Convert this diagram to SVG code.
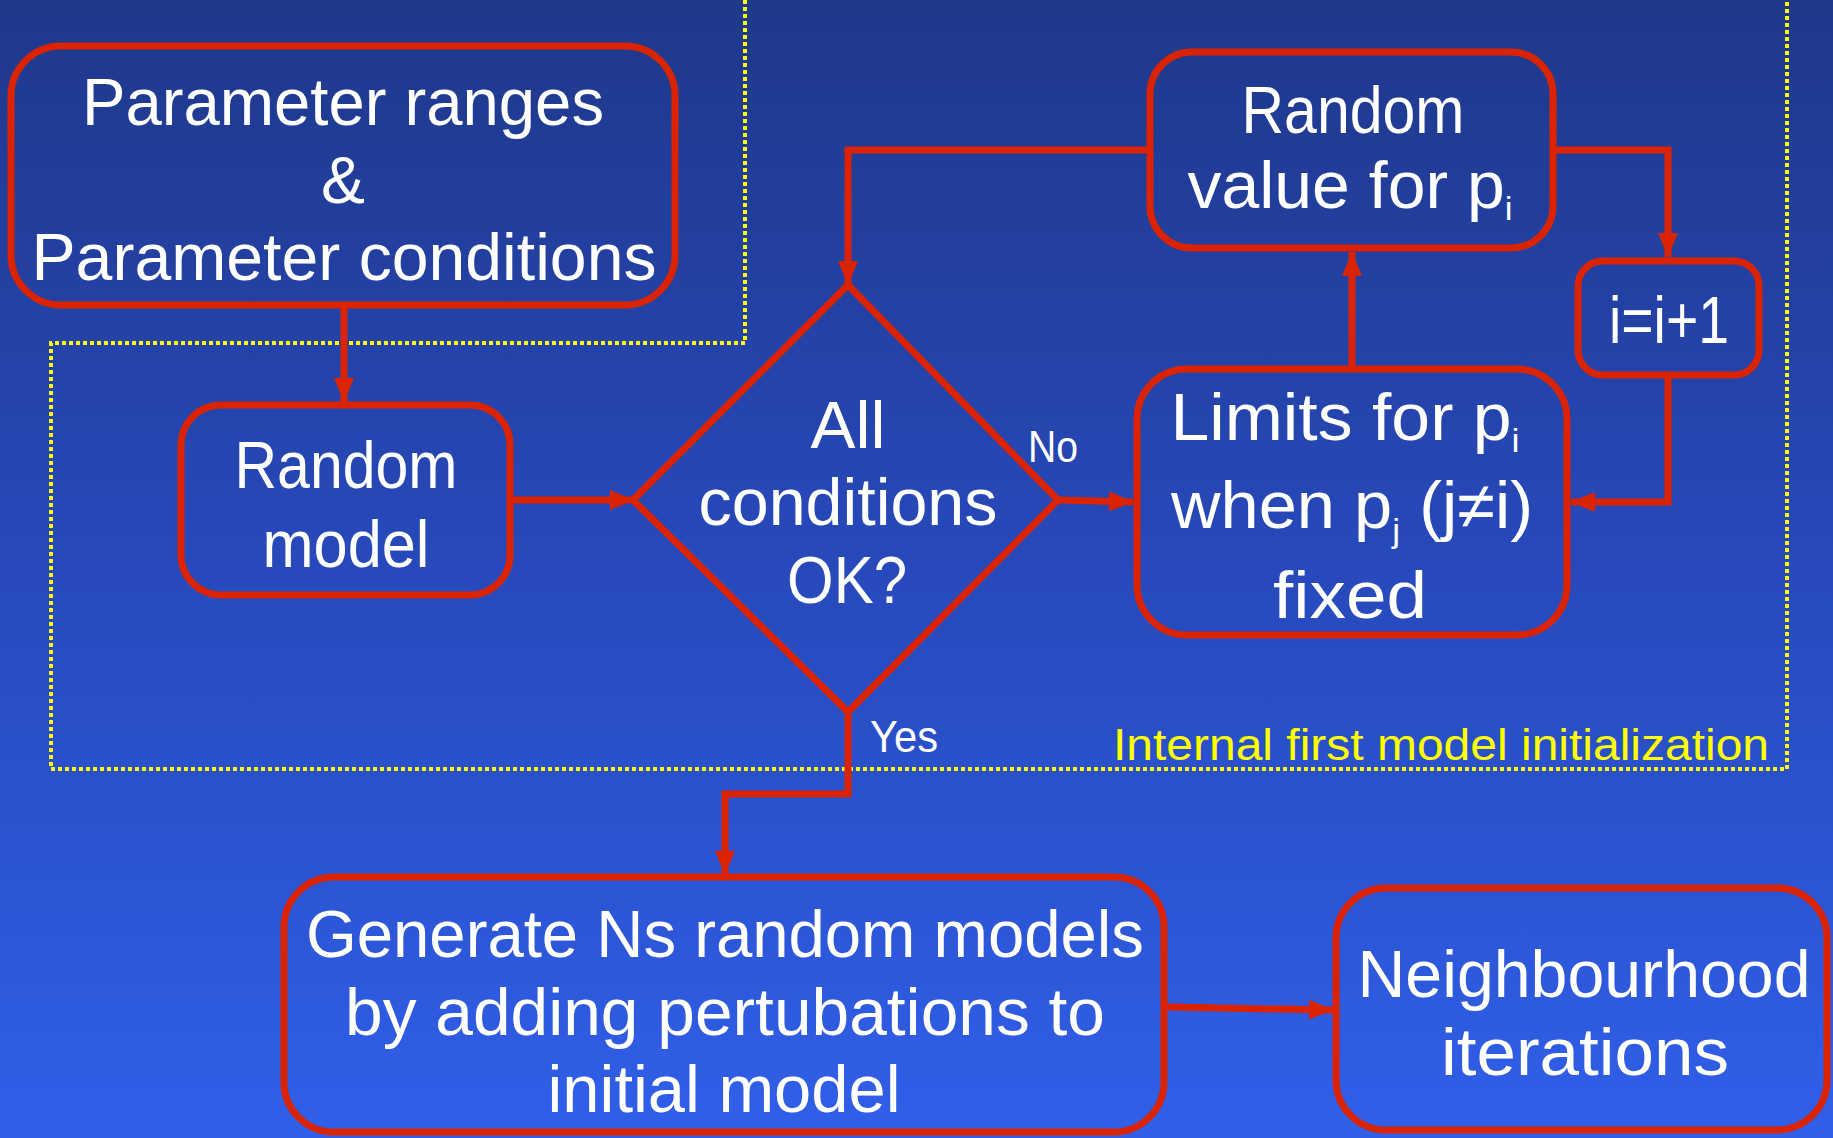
<svg xmlns="http://www.w3.org/2000/svg" width="1833" height="1138" viewBox="0 0 1833 1138">
<defs>
<linearGradient id="bg" x1="0" y1="0" x2="0" y2="1">
<stop offset="0" stop-color="#1f388a"/>
<stop offset="0.5" stop-color="#2749bb"/>
<stop offset="1" stop-color="#305fe9"/>
</linearGradient>
<marker id="arr" viewBox="0 0 24 20" markerWidth="24" markerHeight="20" refX="24" refY="10" orient="auto" markerUnits="userSpaceOnUse">
<path d="M0 0 L24 10 L0 20 Z" fill="#dc2300"/>
</marker>
<style>
.box{fill:none;stroke:#dc2300;stroke-width:7}
.con{fill:none;stroke:#dc2300;stroke-width:7;marker-end:url(#arr)}
.t{fill:#ffffff;font-family:"Liberation Sans","DejaVu Sans",sans-serif;font-size:66px;text-anchor:middle}
.sub{font-size:34px}
.lbl{fill:#ffffff;font-family:"Liberation Sans","DejaVu Sans",sans-serif;font-size:44px;text-anchor:middle}
.yl{fill:#ffff00;font-family:"Liberation Sans","DejaVu Sans",sans-serif;font-size:44px;text-anchor:middle}
.dash{fill:none;stroke:#ffff00;stroke-width:4;stroke-dasharray:4 3}
</style>
</defs>
<rect x="0" y="0" width="1833" height="1138" fill="url(#bg)"/>

<path class="dash" d="M745 0 V343 H51 V769 H1787 V0"/>
<text class="yl" x="1441" y="760" textLength="656" lengthAdjust="spacingAndGlyphs">Internal first model initialization</text>

<g id="connectors">
<path class="con" d="M344 308 V402"/>
<path class="con" d="M513 500 H634"/>
<path class="con" d="M1058 500 L1133 502"/>
<path class="con" d="M1352 366 V252"/>
<path class="con" d="M1150 150 H848 V285"/>
<path class="con" d="M1553 150 H1668 V257"/>
<path class="con" d="M1668 378 V502 H1571"/>
<path class="con" d="M848 712 V794 H725 V875"/>
<path class="con" d="M1167 1007 L1333 1010"/>
<text class="lbl" x="1053" y="462" textLength="50" lengthAdjust="spacingAndGlyphs">No</text>
<text class="lbl" x="904" y="752" textLength="68" lengthAdjust="spacingAndGlyphs">Yes</text>
</g>

<g id="params">
<rect class="box" x="11" y="46" width="664" height="259" rx="50"/>
<text class="t" x="343" y="125" textLength="522" lengthAdjust="spacingAndGlyphs">Parameter ranges</text>
<text class="t" x="343" y="203">&amp;</text>
<text class="t" x="344" y="280" textLength="625" lengthAdjust="spacingAndGlyphs">Parameter conditions</text>
</g>

<g id="random-model">
<rect class="box" x="181" y="405" width="329" height="190" rx="40"/>
<text class="t" x="346" y="488" textLength="223" lengthAdjust="spacingAndGlyphs">Random</text>
<text class="t" x="346" y="567" textLength="167" lengthAdjust="spacingAndGlyphs">model</text>
</g>

<g id="decision">
<path class="box" d="M848 285 L1058 500 L848 712 L633 500 Z"/>
<text class="t" x="848" y="448" textLength="75" lengthAdjust="spacingAndGlyphs">All</text>
<text class="t" x="848" y="525" textLength="299" lengthAdjust="spacingAndGlyphs">conditions</text>
<text class="t" x="847" y="603" textLength="120" lengthAdjust="spacingAndGlyphs">OK?</text>
</g>

<g id="random-value">
<rect class="box" x="1150" y="52" width="403" height="196" rx="42"/>
<text class="t" x="1353" y="133" textLength="223" lengthAdjust="spacingAndGlyphs">Random</text>
<text class="t" x="1350" y="208" textLength="325" lengthAdjust="spacingAndGlyphs">value for p<tspan class="sub" dy="12">i</tspan></text>
</g>

<g id="increment">
<rect class="box" x="1578" y="261" width="181" height="114" rx="25"/>
<text class="t" x="1669" y="343" textLength="120" lengthAdjust="spacingAndGlyphs">i=i+1</text>
</g>

<g id="limits">
<rect class="box" x="1137" y="369" width="430" height="266" rx="50"/>
<text class="t" x="1345" y="440" textLength="349" lengthAdjust="spacingAndGlyphs">Limits for p<tspan class="sub" dy="12">i</tspan></text>
<text class="t" x="1352" y="528" textLength="362" lengthAdjust="spacingAndGlyphs">when p<tspan class="sub" dy="14">j</tspan><tspan dy="-14"> (j≠i)</tspan></text>
<text class="t" x="1350" y="618" textLength="154" lengthAdjust="spacingAndGlyphs">fixed</text>
</g>

<g id="generate">
<rect class="box" x="284" y="877" width="880" height="255" rx="50"/>
<text class="t" x="725" y="957" textLength="838" lengthAdjust="spacingAndGlyphs">Generate Ns random models</text>
<text class="t" x="725" y="1035" textLength="760" lengthAdjust="spacingAndGlyphs">by adding pertubations to</text>
<text class="t" x="724" y="1112" textLength="353" lengthAdjust="spacingAndGlyphs">initial model</text>
</g>

<g id="neighbourhood">
<rect class="box" x="1336" y="888" width="491" height="242" rx="50"/>
<text class="t" x="1584" y="997" textLength="453" lengthAdjust="spacingAndGlyphs">Neighbourhood</text>
<text class="t" x="1585" y="1075" textLength="288" lengthAdjust="spacingAndGlyphs">iterations</text>
</g>
</svg>
